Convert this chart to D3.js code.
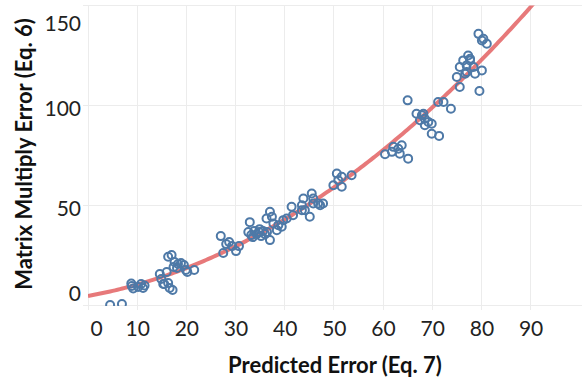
<!DOCTYPE html>
<html><head><meta charset="utf-8">
<script src="https://cdn.jsdelivr.net/npm/d3@7"></script>
<style>body{margin:0;background:#fff}svg{display:block}</style>
</head><body>
<svg id="c" width="585" height="379"></svg>
<script>
// Data
const predicted = [4.5,6.9,
 8.8,9.2,8.9,10.8,11.2,11.5,10.2,
 14.6,14.9,15.3,16.0,16.3,17.2,16.6,15.5,16.3,17.0,17.6,18.3,18.9,19.5,19.9,21.6,20.2,18.1,17.4,
 27.0,27.5,28.1,28.7,29.3,30.1,30.7,
 32.9,32.6,33.2,33.8,34.3,34.8,35.2,35.6,36.0,36.4,33.5,34.9,37.0,
 37.0,36.3,37.4,37.7,38.4,38.7,39.7,39.4,40.4,
 41.4,41.7,43.5,44.1,45.1,45.8,47.2,43.8,45.5,45.8,46.8,47.8,43.5,
 50.6,51.6,49.9,51.6,53.6,50.9,
 60.4,62.1,63.1,63.8,63.4,65.1,61.8,
 65.0,66.8,67.9,68.5,67.5,69.2,69.9,68.5,69.9,71.4,71.2,72.3,73.8,68.2,
 79.4,80.4,80.1,81.1,77.3,77.7,76.3,75.6,77.0,78.4,80.1,75.0,76.7,78.7,75.6,79.6,77.7,77.0];
const matrixErr = [0,0.5,
 10.8,8.3,9.5,10.5,8.5,9.8,9,
 15.5,13,10.5,16.5,11,7.5,8.5,10.5,24.2,25,21.5,20.5,21,20,17.5,17.5,16.5,18.5,19,
 34.5,26,30.5,31.5,29.5,27,29.5,
 41.5,36.5,35,37,35.5,36.5,34.5,37,35.5,36.5,34,38,32.5,
 46.7,43.3,44.2,40.8,37.5,40,42.5,39.2,43.3,
 49.2,45,50,47.5,44.2,50.8,50,53.3,55.8,53.3,50.8,50.8,47.5,
 65.8,64.2,60,59.2,65,62.5,
 75.5,79.2,78.3,80,75.8,73.3,76.7,
 102.5,95.8,95,93.3,92.5,91.7,90.8,90,85.8,84.7,101.7,101.7,98.3,95.8,
 135.8,133.3,132.5,130.8,125,123.3,122.5,119.2,120,119.2,117.5,114.2,115.8,115.8,109.2,107.2,122.5,116.7];
const xTicks = [0,10,20,30,40,50,60,70,80,90];
const yTicks = [0,50,100,150];
const xTitle = "Predicted Error (Eq. 7)";
const yTitle = "Matrix Multiply Error (Eq. 6)";

const svg = d3.select("#c");
const L = 88, R = 582, T = 5.5, B = 305;
const x = d3.scaleLinear().domain([0,100]).range([L, L + 491.75]);
const y = d3.scaleLinear().domain([0,150]).range([B, T]);
const font = "Lato, 'Open Sans', sans-serif";
const grid = "#ececec";

// gridlines
svg.append("g").selectAll("line").data(xTicks).join("line")
  .attr("x1", d => x(d)).attr("x2", d => x(d)).attr("y1", T).attr("y2", B + 5)
  .attr("stroke", grid).attr("stroke-width", 1).attr("shape-rendering","crispEdges");
svg.append("g").selectAll("line").data(yTicks).join("line")
  .attr("x1", L - 5).attr("x2", R).attr("y1", d => y(d)).attr("y2", d => y(d))
  .attr("stroke", grid).attr("stroke-width", 1).attr("shape-rendering","crispEdges");

// axes labels via d3 axes
const xAxis = svg.append("g").attr("transform", `translate(0,${B})`)
  .call(d3.axisBottom(x).tickValues(xTicks).tickSize(0).tickPadding(16).tickFormat(d3.format("d")));
xAxis.select(".domain").remove();
xAxis.selectAll("text").attr("font-family", font).attr("font-size", 21).attr("fill", "#222");
xAxis.selectAll(".tick").filter(d => d === 0).select("text").attr("x", 8);

const yAxis = svg.append("g").attr("transform", `translate(${L},0)`)
  .call(d3.axisLeft(y).tickValues(yTicks).tickSize(0).tickPadding(7).tickFormat(d3.format("d")));
yAxis.select(".domain").remove();
yAxis.selectAll("text").attr("font-family", font).attr("font-size", 21).attr("fill", "#222").attr("dy", "0.49em");
yAxis.selectAll(".tick").filter(d => d === 150).select("text").attr("y", 14.4);
yAxis.selectAll(".tick").filter(d => d === 0).select("text").attr("y", -14.8);

// clip
svg.append("clipPath").attr("id","clip").append("rect")
  .attr("x", L).attr("y", T).attr("width", R - L).attr("height", B - T + 1);

// quadratic least-squares trend from the data
function fitQuad(xs, ys){
  let S=[0,0,0,0,0], Ty=[0,0,0];
  xs.forEach((xv,i)=>{ let p=1; for(let k=0;k<5;k++){S[k]+=p; if(k<3) Ty[k]+=p*ys[i]; p*=xv;} });
  const A=[[S[0],S[1],S[2],Ty[0]],[S[1],S[2],S[3],Ty[1]],[S[2],S[3],S[4],Ty[2]]];
  for(let i=0;i<3;i++){ for(let j=i+1;j<3;j++){ const f=A[j][i]/A[i][i]; for(let k=i;k<4;k++) A[j][k]-=f*A[i][k]; } }
  const c=[0,0,0];
  for(let i=2;i>=0;i--){ let s=A[i][3]; for(let k=i+1;k<3;k++) s-=A[i][k]*c[k]; c[i]=s/A[i][i]; }
  return c;
}
const coef = fitQuad(predicted, matrixErr);
const trendX = d3.range(0, 100.5, 0.5);
const line = d3.line().x(d => x(d)).y(d => y(coef[0] + coef[1]*d + coef[2]*d*d));

const pane = svg.append("g").attr("clip-path","url(#clip)");
pane.append("path").datum(trendX).attr("d", line)
  .attr("fill","none").attr("stroke","#e15759").attr("stroke-opacity",0.8).attr("stroke-width",4);

pane.append("g").selectAll("circle").data(predicted.map((p,i)=>[p, matrixErr[i]])).join("circle")
  .attr("cx", d => x(d[0])).attr("cy", d => y(d[1])).attr("r", 4)
  .attr("fill","none").attr("stroke","#4e79a7").attr("stroke-width",2);

// titles
svg.append("text").attr("x", (L+R)/2).attr("y", 373).attr("text-anchor","middle")
  .attr("font-family", font).attr("font-weight","bold").attr("font-size", 22).attr("fill","#111").text(xTitle);
svg.append("text").attr("transform", `translate(32,154) rotate(-90)`).attr("text-anchor","middle")
  .attr("font-family", font).attr("font-weight","bold").attr("font-size", 22).attr("fill","#111").text(yTitle);
</script>
</body></html>
